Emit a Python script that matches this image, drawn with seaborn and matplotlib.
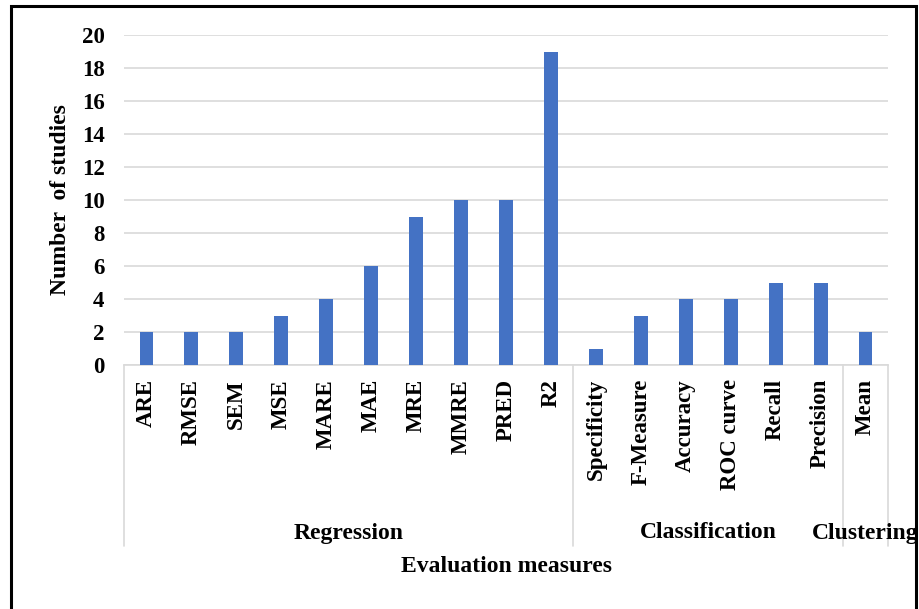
import matplotlib
matplotlib.use("Agg")
import matplotlib.pyplot as plt
import matplotlib.transforms as mtransforms
from matplotlib.patches import Rectangle
import seaborn as sns
import pandas as pd

# Evaluation measures and how many studies used each
measures = ["ARE", "RMSE", "SEM", "MSE", "MARE", "MAE", "MRE", "MMRE", "PRED", "R2",
            "Specificity", "F-Measure", "Accuracy", "ROC curve", "Recall", "Precision",
            "Mean"]
studies = [2, 2, 2, 3, 4, 6, 9, 10, 10, 19,
           1, 3, 4, 4, 5, 5,
           2]
groups = ["Regression", "Classification", "Clustering"]
group_sizes = [10, 6, 1]
y_ticks = [0, 2, 4, 6, 8, 10, 12, 14, 16, 18, 20]

sns.set_style("white")
plt.rcParams["font.family"] = ["Liberation Serif", "DejaVu Serif"]
plt.rcParams["font.weight"] = "bold"
plt.rcParams["text.color"] = "black"
plt.rcParams["xtick.color"] = "black"
plt.rcParams["ytick.color"] = "black"

df = pd.DataFrame({"measure": measures, "studies": studies})

fig = plt.figure(figsize=(9.19, 6.09), dpi=100)
ax = fig.add_axes([124 / 919, 1 - 365 / 609, (888 - 124) / 919, (365 - 35) / 609])

sns.barplot(data=df, x="measure", y="studies", color="#4472C4", width=0.31,
            saturation=1, linewidth=0, ax=ax, zorder=3)

grid_c = "#D9D9D9"
ax.set_ylim(0, 20)
ax.set_xlim(-0.5, len(measures) - 0.5)
ax.set_yticks(y_ticks)
ax.set_yticklabels([str(t) for t in y_ticks], fontsize=16.5, fontweight="bold")
ax.yaxis.grid(True, color=grid_c, linewidth=1.2, zorder=0)
ax.tick_params(axis="y", length=0, pad=14, labelcolor="black")
ax.tick_params(axis="x", length=0, pad=10, labelcolor="black")
for s in ["top", "right", "left"]:
    ax.spines[s].set_visible(False)
ax.spines["bottom"].set_color(grid_c)
ax.spines["bottom"].set_linewidth(1.2)

ax.set_xticks(range(len(measures)))
ax.set_xticklabels(measures, rotation=90, va="top", ha="center",
                   fontsize=16.5, fontweight="bold")
ax.set_xlabel("")
ax.set_ylabel("")

# Category group separators and group names below the tick labels
trans = mtransforms.blended_transform_factory(ax.transData, ax.transAxes)
sep_bottom = (365 - 546) / 330
bounds = [-0.5]
for n in group_sizes:
    bounds.append(bounds[-1] + n)
for b in bounds:
    ax.plot([b, b], [0, sep_bottom], transform=trans, color=grid_c,
            linewidth=1.2, clip_on=False)
for g, a, b in zip(groups, bounds[:-1], bounds[1:]):
    ax.text((a + b) / 2, (365 - 533) / 330, g, transform=trans, ha="center",
            va="center", fontsize=17, fontweight="bold", color="black",
            clip_on=False)

fig.text(506 / 919, 1 - 566 / 609, "Evaluation measures", ha="center", va="center",
         fontsize=17, fontweight="bold", color="black")
fig.text(60 / 919, 1 - 200 / 609, "Number  of studies", ha="center", va="center",
         rotation=90, fontsize=17, fontweight="bold", color="black")

# Outer frame
fig.patches.append(Rectangle((11 / 919, -0.05), (916 - 11) / 919, 1.05 - 6 / 609,
                             transform=fig.transFigure, fill=False,
                             edgecolor="black", linewidth=2.2, zorder=10))

fig.savefig("out.png", dpi=100)
